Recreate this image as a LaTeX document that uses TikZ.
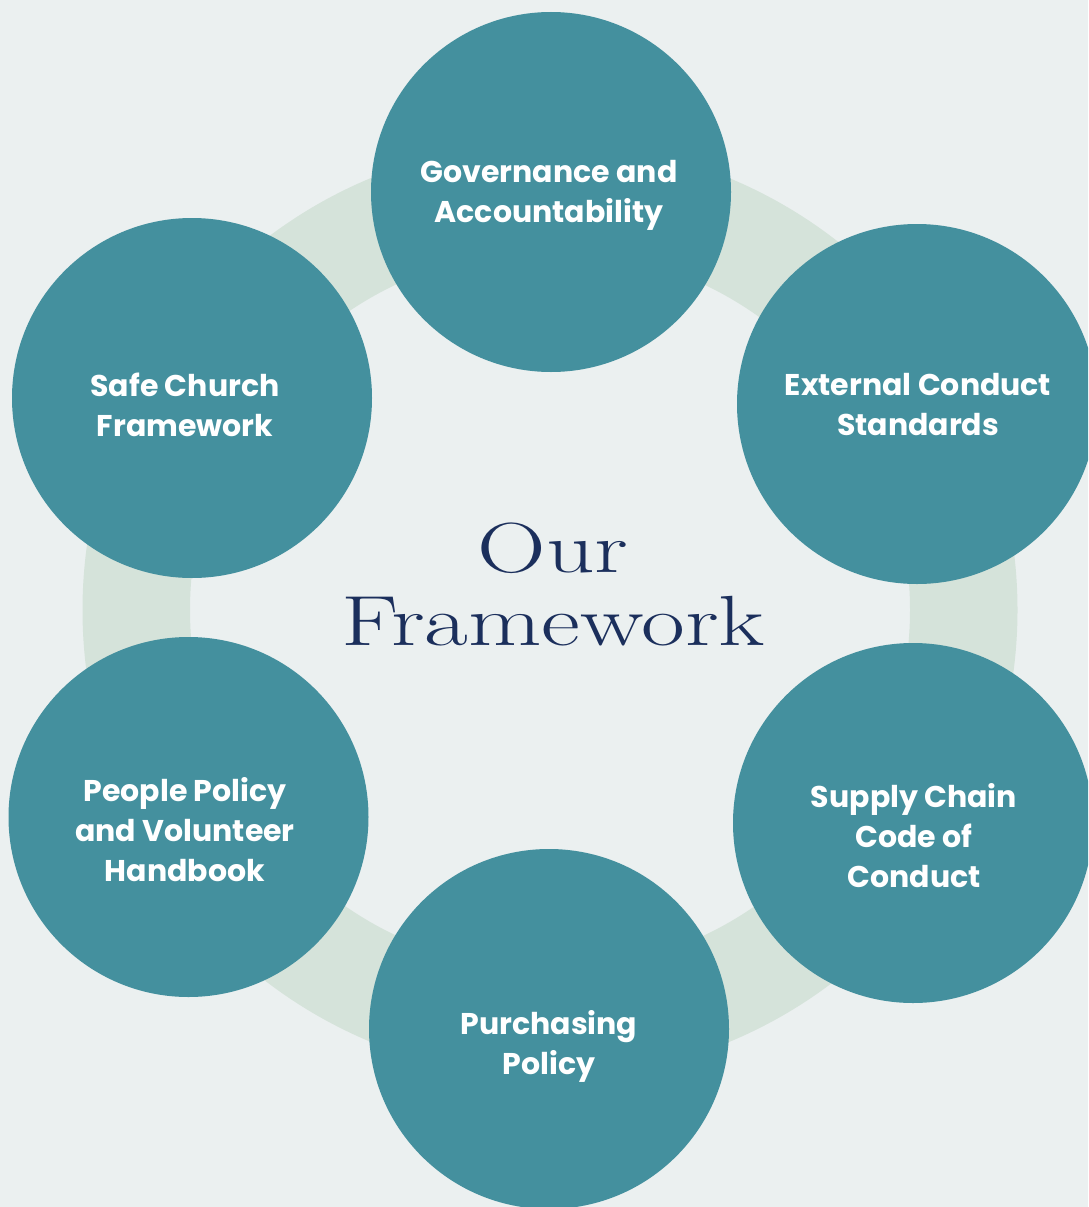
\documentclass[tikz,border=0pt]{standalone}
\usepackage{fontspec}
\setsansfont{Poppins}
\definecolor{bgc}{HTML}{EBF0F0}
\definecolor{ringc}{HTML}{D5E3DA}
\definecolor{tealc}{HTML}{44909E}
\definecolor{navyc}{HTML}{1B2F5C}
\begin{document}
\begin{tikzpicture}[x=1pt,y=-1pt,
  disc/.style={circle,fill=tealc,minimum size=360pt,inner sep=0pt},
  lbl/.style={text=white,align=center,font=\sffamily\bfseries\fontsize{30}{40}\selectfont}]
\useasboundingbox (0,0) rectangle (1088,1207);
\fill[bgc] (0,0) rectangle (1088,1207);
\clip (0,0) rectangle (1088,1207);
\fill[ringc,even odd rule] (550,610) circle[radius=467.5] (550,610) circle[radius=360];
\node[disc] (gov) at (551,192) {};
\node[disc] (ext) at (917,404) {};
\node[disc] (sup) at (913,823) {};
\node[disc] (pur) at (549,1029) {};
\node[disc] (peo) at (188.5,817) {};
\node[disc] (saf) at (192,398) {};
\node[lbl] (tgov) at (549,195) {Governance and\\Accountability};
\node[lbl] (text) at (918,405) {External Conduct\\Standards};
\node[lbl] (tsup) at (914,836) {Supply Chain\\Code of\\Conduct};
\node[lbl] (tpur) at (549,1046) {Purchasing\\Policy};
\node[lbl] (tpeo) at (185,830) {People Policy\\and Volunteer\\Handbook};
\node[lbl] (tsaf) at (185,405) {Safe Church\\Framework};
\node[text=navyc,align=center,font=\fontsize{71}{73}\selectfont] (title) at (553,584)
  {\scalebox{1.34}[1]{Our}\\\scalebox{1.34}[1]{Framework}};
\end{tikzpicture}
\end{document}
